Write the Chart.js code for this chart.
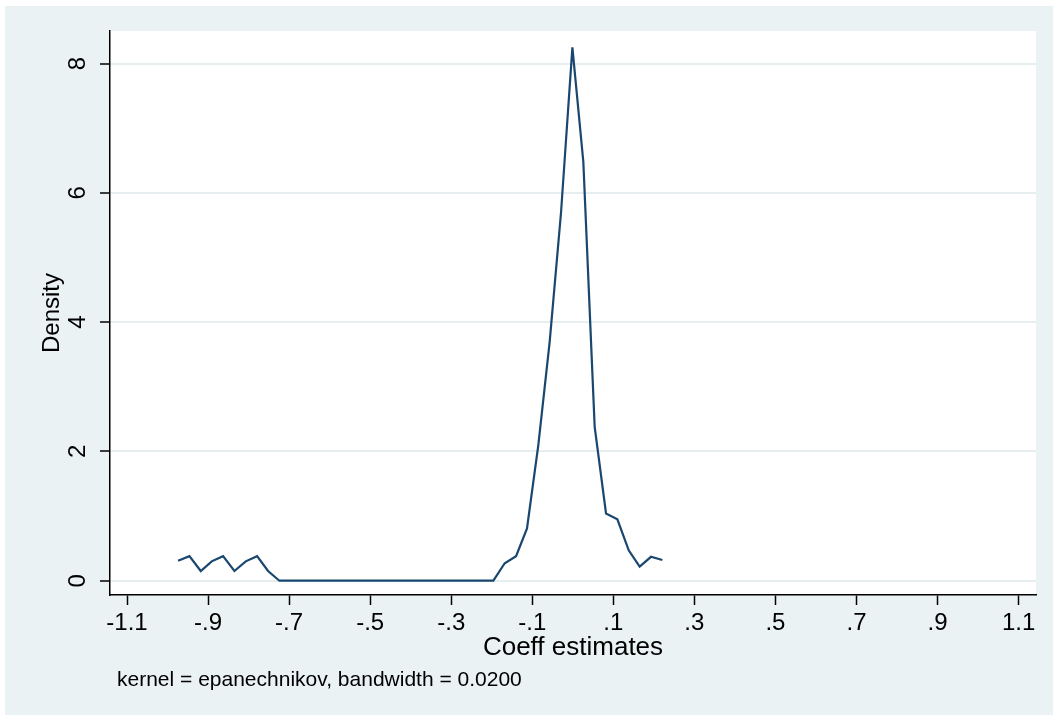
<!DOCTYPE html>
<html>
<head>
<meta charset="utf-8">
<script src="https://cdn.jsdelivr.net/npm/chart.js@4.4.1/dist/chart.umd.min.js"></script>
<style>
  html, body { margin: 0; padding: 0; background: #ffffff; width: 1053px; height: 715px; overflow: hidden; }
  #c { position: absolute; left: 5px; top: 6px; }
</style>
</head>
<body>
<canvas id="c" width="1048" height="709"></canvas>
<script>
// Evaluation points of the kernel density (coefficient estimates)
const xValues = [-0.974, -0.946, -0.918, -0.891, -0.863, -0.835, -0.807, -0.779, -0.752, -0.724,
                 -0.696, -0.668, -0.641, -0.613, -0.585, -0.557, -0.529, -0.502, -0.474, -0.446,
                 -0.418, -0.390, -0.363, -0.335, -0.307, -0.279, -0.251, -0.224, -0.196, -0.168,
                 -0.140, -0.113, -0.085, -0.057, -0.029, -0.001, 0.026, 0.054, 0.082, 0.110,
                 0.138, 0.165, 0.193, 0.221];
// Estimated density at each point
const densityValues = [0.31, 0.38, 0.15, 0.30, 0.38, 0.15, 0.30, 0.38, 0.15, 0,
                       0, 0, 0, 0, 0, 0, 0, 0, 0, 0,
                       0, 0, 0, 0, 0, 0, 0, 0, 0, 0.27,
                       0.38, 0.81, 2.1, 3.7, 5.7, 8.25, 6.48, 2.38, 1.04, 0.95,
                       0.47, 0.22, 0.37, 0.32];
const xTickValues = [-1.1, -0.9, -0.7, -0.5, -0.3, -0.1, 0.1, 0.3, 0.5, 0.7, 0.9, 1.1];
const xTickLabels = ["-1.1", "-.9", "-.7", "-.5", "-.3", "-.1", ".1", ".3", ".5", ".7", ".9", "1.1"];
const yTickValues = [0, 2, 4, 6, 8];
const yTickLabels = ["0", "2", "4", "6", "8"];
const xTitle = "Coeff estimates";
const yTitle = "Density";
const noteText = "kernel = epanechnikov, bandwidth = 0.0200";

const FONT = "'Liberation Sans', Arial, Helvetica, sans-serif";
const points = xValues.map((x, i) => ({ x: x, y: densityValues[i] }));

const bgPlugin = {
  id: 'bgPlugin',
  afterLayout(chart) {
    // nudge the note slightly right of the plot's left edge
    chart.boxes.forEach(b => {
      if (b.options && b.options.text === noteText) { b.left += 7; b.right += 7; }
    });
  },
  beforeDraw(chart) {
    const { ctx, chartArea: a, width, height } = chart;
    ctx.save();
    ctx.fillStyle = '#EAF2F3';
    ctx.fillRect(0, 0, width, height);
    ctx.fillStyle = '#FFFFFF';
    ctx.fillRect(a.left, a.top, a.right - a.left, a.bottom - a.top);
    ctx.restore();
  }
};

new Chart(document.getElementById('c'), {
  type: 'line',
  data: {
    datasets: [{
      data: points,
      borderColor: '#1A476F',
      borderWidth: 2.2,
      pointRadius: 0,
      tension: 0,
      fill: false
    }]
  },
  options: {
    responsive: false,
    devicePixelRatio: 1,
    animation: false,
    layout: { padding: { top: 25, right: 17, left: 0, bottom: 0 } },
    plugins: {
      legend: { display: false },
      tooltip: { enabled: false },
      title: { display: false },
      subtitle: {
        display: true,
        text: noteText,
        position: 'bottom',
        align: 'start',
        fullSize: false,
        color: '#000000',
        font: { family: FONT, size: 21, weight: 'normal' },
        padding: { top: 0, bottom: 22 }
      }
    },
    scales: {
      x: {
        type: 'linear',
        min: -1.142,
        max: 1.143,
        afterBuildTicks: (scale) => { scale.ticks = xTickValues.map(v => ({ value: v })); },
        afterFit: (scale) => { scale.height = 72.8; scale.paddingLeft = 0; scale.paddingRight = 0; },
        ticks: {
          callback: (value, index) => xTickLabels[index],
          color: '#000000',
          font: { family: FONT, size: 24 },
          padding: 4,
          maxRotation: 0,
          minRotation: 0,
          autoSkip: false
        },
        grid: {
          drawOnChartArea: false,
          drawTicks: true,
          tickLength: 10,
          tickColor: '#000000',
          tickWidth: 1.5
        },
        border: { display: true, color: '#000000', width: 1.5 },
        title: {
          display: true,
          text: xTitle,
          color: '#000000',
          font: { family: FONT, size: 26 },
          padding: { top: 0, bottom: 4 }
        }
      },
      y: {
        type: 'linear',
        min: -0.221,
        max: 8.504,
        afterBuildTicks: (scale) => { scale.ticks = yTickValues.map(v => ({ value: v })); },
        afterFit: (scale) => { scale.width = 105; scale.paddingTop = 0; scale.paddingBottom = 0; },
        ticks: {
          callback: (value, index) => yTickLabels[index],
          color: '#000000',
          font: { family: FONT, size: 24 },
          padding: 15,
          minRotation: 90,
          maxRotation: 90,
          crossAlign: 'center',
          autoSkip: false
        },
        grid: {
          drawOnChartArea: true,
          color: '#E6EEF0',
          lineWidth: 2,
          drawTicks: true,
          tickLength: 10,
          tickColor: '#000000',
          tickWidth: 1.5
        },
        border: { display: true, color: '#000000', width: 1.5 },
        title: {
          display: true,
          text: yTitle,
          color: '#000000',
          font: { family: FONT, size: 24 },
          padding: { top: 33, bottom: 0 }
        }
      }
    }
  },
  plugins: [bgPlugin]
});
</script>
</body>
</html>
